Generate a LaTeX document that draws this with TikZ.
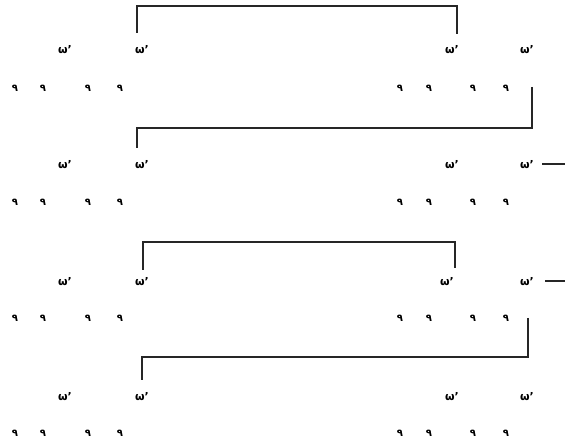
\documentclass[tikz,border=0pt]{standalone}
\usepackage{fontspec}
\newfontfamily\arabicfont[Script=Arabic]{DejaVu Sans}
\newfontfamily\dvs{DejaVu Sans}
\begin{document}
\begin{tikzpicture}[x=1pt,y=-1pt,
  up/.style={inner sep=0pt,font=\dvs\bfseries\fontsize{11}{11}\selectfont},
  dig/.style={inner sep=0pt,font=\arabicfont\bfseries\fontsize{10}{10}\selectfont},
  ln/.style={line width=1.1pt,black!85}]
\useasboundingbox (0,0) rectangle (565,446);
% rows
\foreach \r/\yu/\yl/\xc in {1/50/88/452, 2/165/202/452, 3/282/318/447, 4/397/433/452}{
  \node[up] (u\r a) at (65,\yu) {ω’};
  \node[up] (u\r b) at (142,\yu) {ω’};
  \node[up] (u\r c) at (\xc,\yu) {ω’};
  \node[up] (u\r d) at (527,\yu) {ω’};
  \foreach \k/\x in {a/15,b/43,c/88,d/120,e/400,f/429,g/473,h/506}{
    \node[dig] (l\r\k) at (\x,\yl) {٩};
  }
}
% bracket 1
\coordinate (b1s) at (137,33);
\coordinate (b1e) at (457,34);
\draw[ln] (b1s) -- (137,6) -| (b1e);
% link 1-2
\coordinate (c1s) at (532,87);
\coordinate (c1e) at (137,148);
\draw[ln] (c1s) |- (137,128) -- (c1e);
% dash row 2
\coordinate (d2) at (565,164);
\draw[ln] (542,164) -- (d2);
% bracket 3
\coordinate (b3s) at (143,270);
\coordinate (b3e) at (455,268);
\draw[ln] (b3s) -- (143,242) -| (b3e);
% dash row 3
\coordinate (d3) at (565,281);
\draw[ln] (545,281) -- (d3);
% link 3-4
\coordinate (c3s) at (528,318);
\coordinate (c3e) at (142,380);
\draw[ln] (c3s) |- (142,357) -- (c3e);
\end{tikzpicture}
\end{document}
